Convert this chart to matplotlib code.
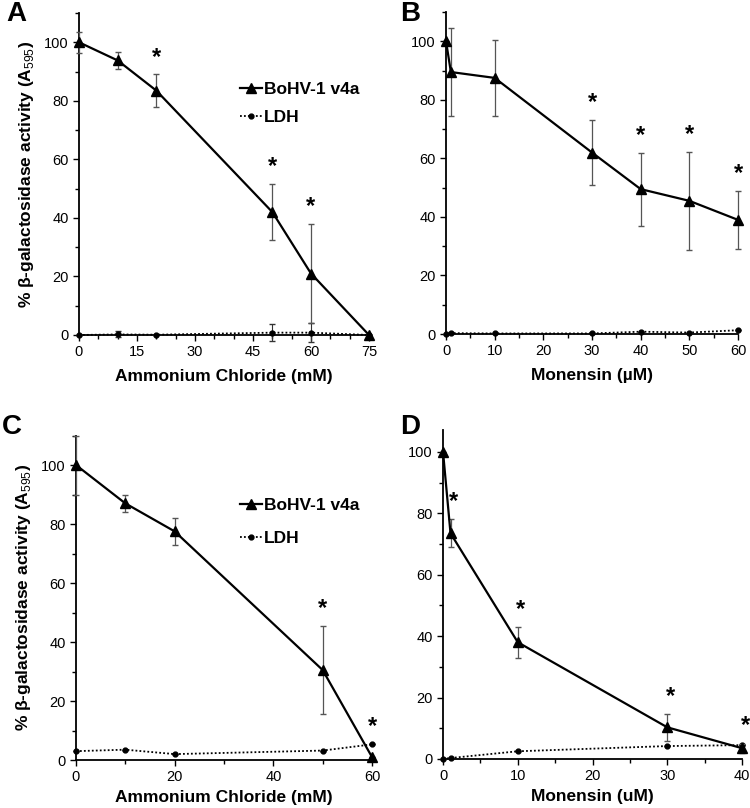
import matplotlib
matplotlib.use('Agg')
import matplotlib.pyplot as plt
from matplotlib.lines import Line2D
from matplotlib.ticker import MultipleLocator

plt.rcParams['font.family'] = ['Liberation Sans', 'DejaVu Sans']
plt.rcParams['mathtext.fontset'] = 'custom'
plt.rcParams['mathtext.rm'] = 'Liberation Sans'
plt.rcParams['mathtext.bf'] = 'Liberation Sans:bold'

# Panel A - ammonium chloride
a_x = [0, 10, 20, 50, 60, 75]
a_virus = [100, 93.8, 83.5, 42, 21, 0]
a_virus_err = [3.5, 2.8, 5.5, 9.5, 17, 0]
a_ldh = [0, 0.2, 0.1, 0.8, 0.8, 0]
a_ldh_err = [0, 1.0, 0, 2.8, 3.3, 0]
a_stars = [20, 50, 60]

# Panel B - monensin
b_x = [0, 1, 10, 30, 40, 50, 60]
b_virus = [100, 89.5, 87.5, 62, 49.5, 45.5, 39]
b_virus_err = [0, 15, 13, 11, 12.5, 16.7, 10]
b_ldh = [0, 0.3, 0.2, 0.2, 0.8, 0.5, 1.3]
b_ldh_err = [0, 0, 0, 0, 0, 0, 0]
b_stars = [30, 40, 50, 60]

# Panel C - ammonium chloride
c_x = [0, 10, 20, 50, 60]
c_virus = [100, 87, 77.5, 30.5, 1]
c_virus_err = [10, 2.8, 4.5, 15, 0]
c_ldh = [3, 3.5, 2, 3.2, 5.3]
c_ldh_err = [0, 0, 0, 0, 0]
c_stars = [50, 60]

# Panel D - monensin
d_x = [0, 1, 10, 30, 40]
d_virus = [100, 73.5, 38, 10.3, 3.5]
d_virus_err = [0, 4.6, 5, 4.3, 1.5]
d_ldh = [0, 0.3, 2.5, 4.2, 4.5]
d_ldh_err = [0, 0, 0, 0, 0]
d_stars = [1, 10, 30, 40]

ylab = r'% β-galactosidase activity (A$_{595}$)'

fig = plt.figure(figsize=(7.5, 8.08), dpi=100)


def panel(pos, x, virus, verr, ldh, lerr, stars, xlim, ymax, xmaj, xmin,
          xlabel, letter, letter_pos, show_ylabel, legend_pos=None,
          legend_gap=0.6, star_dx=0, xpad=4):
    ax = fig.add_axes(pos)
    ax.errorbar(x, ldh, yerr=lerr, color='black', ls=(0, (1, 1.2)), lw=1.3,
                marker='o', ms=3.5, ecolor='#333333', elinewidth=0.8,
                capsize=2, clip_on=False, zorder=3)
    ax.errorbar(x, virus, yerr=verr, color='black', lw=1.6, marker='^',
                ms=7.5, ecolor='#555555', elinewidth=0.9, capsize=2.5,
                clip_on=False, zorder=4)
    for s in stars:
        i = x.index(s)
        top = max(virus[i] + verr[i], ldh[i] + lerr[i])
        ax.text(s + star_dx, top + 2, '*', ha='center', va='bottom',
                fontsize=17, fontweight='bold')
    ax.set_xlim(*xlim)
    ax.set_ylim(0, ymax)
    ax.xaxis.set_major_locator(MultipleLocator(xmaj))
    ax.xaxis.set_minor_locator(MultipleLocator(xmin))
    ax.yaxis.set_major_locator(MultipleLocator(20))
    ax.yaxis.set_minor_locator(MultipleLocator(10))
    for side in ['top', 'right']:
        ax.spines[side].set_visible(False)
    for side in ['left', 'bottom']:
        ax.spines[side].set_linewidth(1.3)
    ax.tick_params(which='major', direction='out', length=4, width=1,
                   labelsize=10.5)
    ax.tick_params(which='minor', direction='out', length=3, width=1)
    ax.set_xlabel(xlabel, fontsize=12.5, fontweight='bold', labelpad=xpad)
    if show_ylabel:
        ax.set_ylabel(ylab, fontsize=12.5, fontweight='bold', labelpad=6)
    if legend_pos is not None:
        handles = [
            Line2D([], [], color='black', lw=1.6, marker='^', ms=7.5),
            Line2D([], [], color='black', lw=1.3, ls=(0, (1, 1.2)),
                   marker='o', ms=3.5),
        ]
        ax.legend(handles, ['BoHV-1 v4a', 'LDH'], loc='upper left',
                  bbox_to_anchor=legend_pos, frameon=False,
                  handlelength=1.3, handletextpad=0.1,
                  labelspacing=legend_gap,
                  prop={'weight': 'bold', 'size': 12.5})
    fig.text(letter_pos[0], letter_pos[1], letter, fontsize=20,
             fontweight='bold', va='top', ha='left')
    return ax


panel([0.1053, 0.5854, 0.3867, 0.3985], a_x, a_virus, a_virus_err, a_ldh,
      a_ldh_err, a_stars, (0, 75), 110, 15, 5, 'Ammonium Chloride (mM)',
      'A', (0.008, 0.999), True, legend_pos=(0.5, 0.835), legend_gap=0.75,
      xpad=7)
panel([0.5947, 0.5866, 0.3893, 0.3985], b_x, b_virus, b_virus_err, b_ldh,
      b_ldh_err, b_stars, (0, 60), 110, 10, 5, 'Monensin (µM)',
      'B', (0.533, 0.999), False, xpad=7)
panel([0.1013, 0.0594, 0.3947, 0.4016], c_x, c_virus, c_virus_err, c_ldh,
      c_ldh_err, c_stars, (0, 60), 110, 20, 10, 'Ammonium Chloride (mM)',
      'C', (0.003, 0.488), True, legend_pos=(0.5, 0.855), legend_gap=1.0)
panel([0.5907, 0.0607, 0.3987, 0.4067], d_x, d_virus, d_virus_err, d_ldh,
      d_ldh_err, d_stars, (0, 40), 107, 10, 5, 'Monensin (uM)',
      'D', (0.533, 0.488), False, star_dx=0.4)

fig.savefig('out.png', dpi=100)
